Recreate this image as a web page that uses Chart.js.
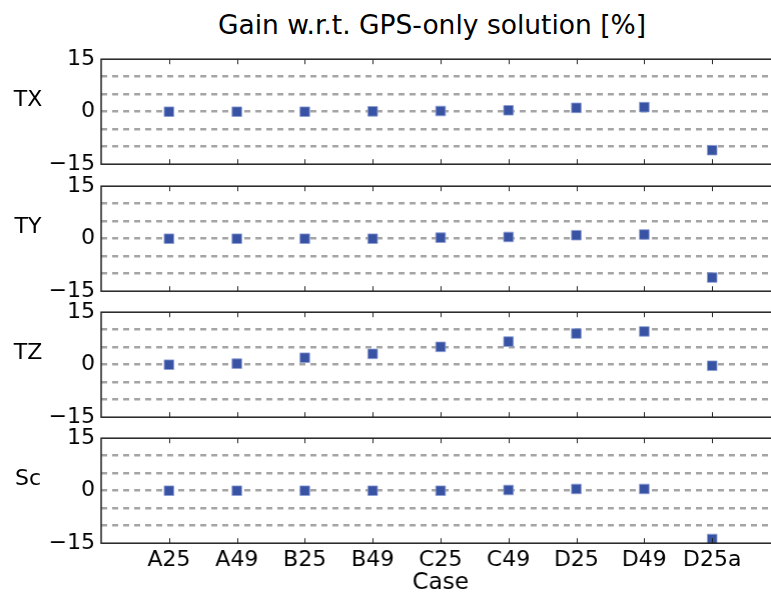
<!DOCTYPE html>
<html>
<head>
<meta charset="utf-8">
<script src="https://cdn.jsdelivr.net/npm/chart.js@4.4.1/dist/chart.umd.min.js"></script>
<style>
  html, body { margin: 0; padding: 0; width: 771px; height: 597px; overflow: hidden; background: #fff; }
  .wrap { position: absolute; left: 0; }
  .wrap canvas { display: block; }
  .lbl { position: absolute; font-family: "DejaVu Sans", sans-serif; font-size: 22px; line-height: 22px; color: #000; white-space: nowrap; }
</style>
</head>
<body>
<div class="lbl" id="title" style="left:0; width:864px; text-align:center; top:12px; font-size:26.5px; line-height:26px;">Gain w.r.t. GPS-only solution [%]</div>
<div id="host"></div>
<script>
const categories = ['A25', 'A49', 'B25', 'B49', 'C25', 'C49', 'D25', 'D49', 'D25a'];
const panelNames = ['TX', 'TY', 'TZ', 'Sc'];
const txValues = [0.0, 0.0, 0.0, 0.1, 0.2, 0.4, 1.1, 1.3, -11.0];
const tyValues = [0.0, 0.0, 0.0, 0.0, 0.3, 0.5, 1.0, 1.2, -11.1];
const tzValues = [0.0, 0.3, 2.0, 3.1, 5.1, 6.6, 8.9, 9.5, -0.3];
const scValues = [0.0, 0.0, 0.0, 0.0, 0.0, 0.2, 0.5, 0.5, -13.8];
const yTickLabels = { '15': '15', '0': '0', '-15': '\u221215' };
const xAxisTitle = 'Case';

const seriesList = [txValues, tyValues, tzValues, scValues];
const panelTops = [59, 186, 312, 438];
const PANEL_H = 105;
const PAD = 15;
const X_AXIS_H = 56;
const PLOT_RIGHT = 779;
const FONT = '"DejaVu Sans", sans-serif';

const framePlugin = {
  id: 'frame',
  afterDatasetsDraw(chart) {
    const { ctx, chartArea: a, scales } = chart;
    ctx.save();
    ctx.strokeStyle = '#222';
    ctx.lineWidth = 1;
    const xs = scales.x;
    for (let i = 1; i <= categories.length; i++) {
      const px = Math.round(xs.getPixelForValue(i)) + 0.5;
      ctx.beginPath();
      ctx.moveTo(px, a.top); ctx.lineTo(px, a.top + 5);
      ctx.moveTo(px, a.bottom); ctx.lineTo(px, a.bottom - 5);
      ctx.stroke();
    }
    ctx.lineWidth = 1.5;
    ctx.strokeRect(a.left, a.top, a.right - a.left, a.bottom - a.top);
    ctx.restore();
  }
};

seriesList.forEach((vals, k) => {
  const isLast = k === seriesList.length - 1;
  let top = panelTops[k] - PAD;
  let height = PANEL_H + PAD + (isLast ? X_AXIS_H : PAD);
  let width = PLOT_RIGHT;
  const wrap = document.createElement('div');
  wrap.className = 'wrap';
  const setBox = () => {
    wrap.style.top = top + 'px';
    wrap.style.height = height + 'px';
    wrap.style.width = width + 'px';
  };
  setBox();
  const cv = document.createElement('canvas');
  cv.width = width; cv.height = height;
  cv.style.width = width + 'px'; cv.style.height = height + 'px';
  wrap.appendChild(cv);
  document.getElementById('host').appendChild(wrap);

  const lab = document.createElement('div');
  lab.className = 'lbl';
  lab.style.left = '0px'; lab.style.width = '56px'; lab.style.textAlign = 'center';
  lab.style.top = (panelTops[k] + 29) + 'px';
  lab.textContent = panelNames[k];
  document.body.appendChild(lab);

  const xScale = {
    type: 'linear',
    display: isLast,
    min: 0, max: categories.length + 1,
    ticks: {
      stepSize: 1, autoSkip: false, maxRotation: 0, padding: 4,
      color: '#000', font: { family: FONT, size: 22 },
      callback: v => (v >= 1 && v <= categories.length) ? categories[v - 1] : ''
    },
    grid: { display: false, drawTicks: false },
    border: { display: false },
    title: { display: true, text: xAxisTitle, color: '#000', font: { family: FONT, size: 23 }, padding: { top: 0, bottom: 2 } }
  };
  if (isLast) xScale.afterFit = s => { s.height = X_AXIS_H; };

  const chart = new Chart(cv, {
    type: 'scatter',
    data: {
      datasets: [{
        data: vals.map((v, i) => ({ x: i + 1, y: v })),
        pointStyle: 'rect',
        pointRadius: 6.8,
        pointHoverRadius: 6.8,
        backgroundColor: 'rgb(57,83,164)',
        borderColor: 'rgba(140,158,212,0.8)',
        borderWidth: 1
      }]
    },
    options: {
      responsive: false,
      maintainAspectRatio: false,
      animation: false,
      events: [],
      devicePixelRatio: 1,
      layout: { padding: { top: PAD, bottom: isLast ? 0 : PAD, left: 0, right: 0 } },
      plugins: { legend: { display: false }, tooltip: { enabled: false }, title: { display: false } },
      scales: {
        x: xScale,
        y: {
          min: -15, max: 15,
          afterFit(s) { s.width = 101; },
          ticks: {
            stepSize: 5, autoSkip: false, padding: 6,
            color: '#000', font: { family: FONT, size: 22 },
            callback: v => (yTickLabels[String(v)] !== undefined ? yTickLabels[String(v)] : '')
          },
          grid: {
            drawTicks: false,
            lineWidth: 2.5,
            color: c => (Math.abs(c.tick.value) === 15 ? 'rgba(0,0,0,0)' : '#a5a5a5')
          },
          border: { display: false, dash: [6, 5] }
        }
      }
    },
    plugins: [framePlugin]
  });

  // align the plot area with the reference panel box
  for (let it = 0; it < 4; it++) {
    const a = chart.chartArea;
    top += panelTops[k] - (top + a.top);
    height += PANEL_H - (a.bottom - a.top);
    width += PLOT_RIGHT - a.right;
    setBox();
    chart.resize(width, height);
  }
});
</script>
</body>
</html>
